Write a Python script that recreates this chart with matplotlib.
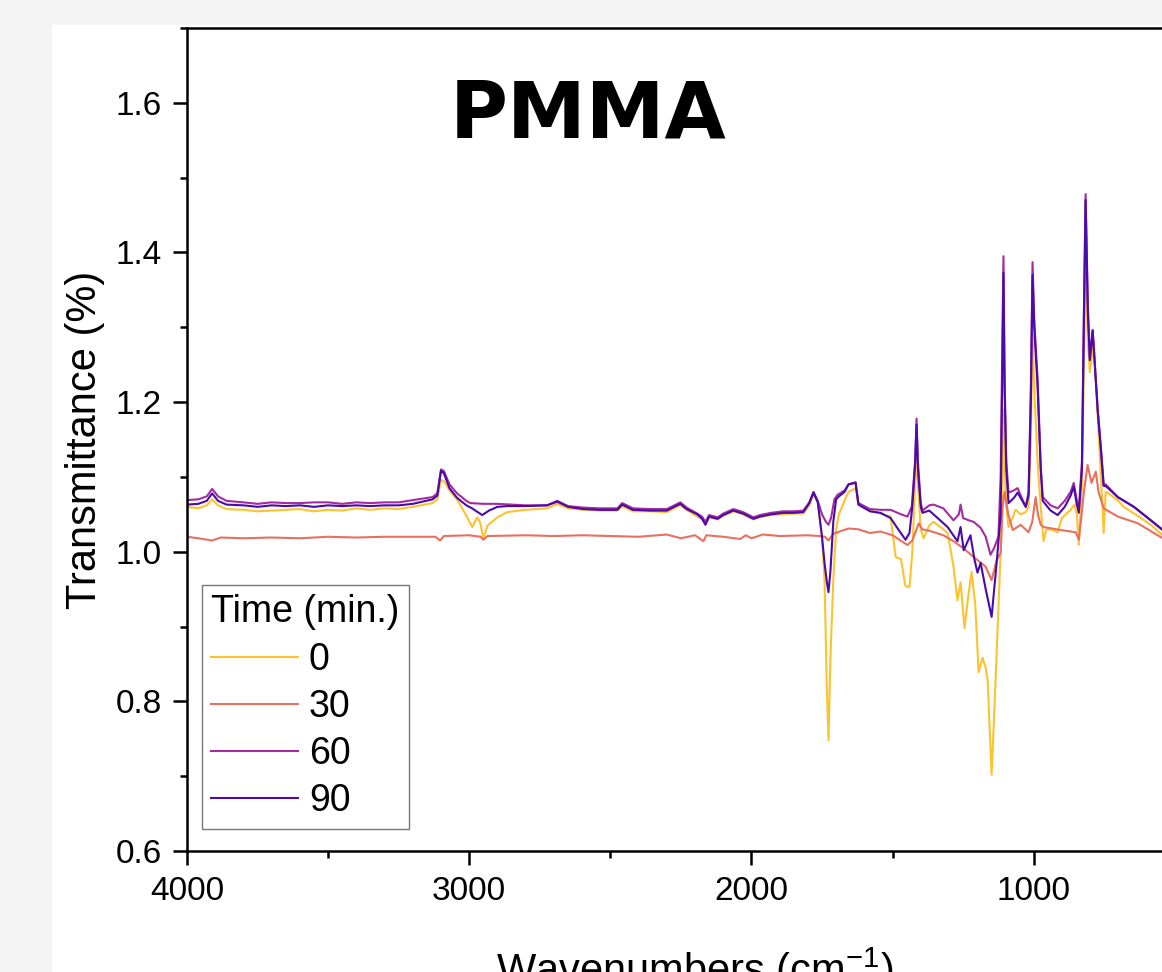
import matplotlib
matplotlib.use("Agg")
import matplotlib.pyplot as plt
from matplotlib.patches import Rectangle
from matplotlib.ticker import MultipleLocator, FormatStrFormatter

# ---------------- data ----------------
labels = ["0", "30", "60", "90"]

wn_0 = [4000, 3960, 3930, 3911, 3890, 3860, 3800, 3750, 3700, 3650, 3600, 3550, 3500, 3450, 3400,
        3350, 3300, 3250, 3200, 3130, 3113, 3100, 3090, 3070, 3040, 3010, 2989, 2972, 2962, 2950,
        2935, 2900, 2865, 2800, 2724, 2688, 2650, 2596, 2540, 2475, 2458, 2420, 2358, 2300, 2252,
        2230, 2192, 2175, 2163, 2150, 2120, 2100, 2064, 2030, 1993, 1970, 1930, 1887, 1850, 1816,
        1795, 1780, 1765, 1750, 1741, 1733, 1727, 1720, 1710, 1700, 1690, 1670, 1656, 1631, 1621,
        1580, 1543, 1507, 1489, 1470, 1455, 1447, 1440, 1430, 1420, 1415, 1410, 1400, 1390, 1370,
        1355, 1320, 1305, 1284, 1270, 1259, 1245, 1232, 1220, 1207, 1195, 1181, 1170, 1163, 1149,
        1138, 1128, 1117, 1110, 1107, 1103, 1097, 1089, 1075, 1064, 1046, 1028, 1018, 1010, 1004,
        998, 986, 975, 965, 955, 940, 915, 900, 880, 869, 855, 847, 840, 829, 822, 816, 808, 801,
        787, 773, 762, 756, 752, 745, 738, 700, 681, 640, 585, 543, 500, 400]
val_0 = [1.060, 1.058, 1.062, 1.070, 1.062, 1.057, 1.056, 1.054, 1.055, 1.056, 1.057, 1.054, 1.056, 1.055, 1.058,
         1.056, 1.058, 1.057, 1.060, 1.065, 1.070, 1.096, 1.094, 1.082, 1.068, 1.048, 1.033, 1.046, 1.040, 1.018,
         1.035, 1.046, 1.053, 1.056, 1.058, 1.064, 1.058, 1.056, 1.055, 1.055, 1.061, 1.054, 1.054, 1.053, 1.062,
         1.056, 1.047, 1.044, 1.038, 1.046, 1.043, 1.048, 1.054, 1.050, 1.043, 1.046, 1.049, 1.050, 1.051, 1.051,
         1.062, 1.077, 1.066, 1.020, 0.962, 0.820, 0.748, 0.860, 0.962, 1.030, 1.050, 1.068, 1.080, 1.085, 1.063,
         1.055, 1.051, 1.047, 0.993, 0.990, 0.955, 0.953, 0.953, 1.000, 1.090, 1.123, 1.090, 1.030, 1.018, 1.035,
         1.040, 1.030, 1.025, 0.980, 0.935, 0.959, 0.898, 0.940, 0.973, 0.930, 0.839, 0.858, 0.845, 0.828, 0.702,
         0.800, 0.895, 1.000, 1.100, 1.190, 1.120, 1.060, 1.033, 1.045, 1.056, 1.050, 1.053, 1.060, 1.150, 1.290,
         1.220, 1.120, 1.060, 1.014, 1.030, 1.030, 1.026, 1.045, 1.052, 1.056, 1.063, 1.050, 1.009, 1.090, 1.250,
         1.380, 1.280, 1.240, 1.280, 1.180, 1.100, 1.060, 1.025, 1.080, 1.079, 1.068, 1.060, 1.050, 1.036, 1.022,
         1.010, 0.995]

wn_30 = [4000, 3960, 3911, 3880, 3800, 3700, 3600, 3500, 3400, 3300, 3200, 3120, 3103, 3090, 3000,
         2960, 2950, 2935, 2800, 2700, 2600, 2500, 2400, 2300, 2250, 2200, 2170, 2160, 2100, 2040,
         2020, 2000, 1960, 1900, 1800, 1760, 1740, 1727, 1710, 1680, 1656, 1621, 1580, 1543, 1500,
         1447, 1430, 1407, 1395, 1370, 1320, 1284, 1250, 1213, 1199, 1170, 1149, 1130, 1117, 1110,
         1103, 1090, 1074, 1046, 1018, 1005, 993, 985, 975, 965, 904, 851, 840, 830, 822, 809, 795,
         780, 770, 752, 702, 631, 543, 400]
val_30 = [1.020, 1.018, 1.015, 1.019, 1.018, 1.019, 1.018, 1.020, 1.019, 1.020, 1.020, 1.020, 1.015, 1.021, 1.022,
          1.020, 1.016, 1.021, 1.022, 1.021, 1.022, 1.021, 1.020, 1.023, 1.018, 1.022, 1.014, 1.022, 1.020, 1.017,
          1.022, 1.018, 1.023, 1.021, 1.022, 1.021, 1.020, 1.015, 1.024, 1.028, 1.031, 1.030, 1.025, 1.027, 1.022,
          1.009, 1.015, 1.038, 1.030, 1.028, 1.022, 1.014, 1.005, 0.993, 0.989, 0.980, 0.962, 0.990, 0.998, 1.060,
          1.080, 1.050, 1.029, 1.036, 1.026, 1.040, 1.073, 1.050, 1.036, 1.033, 1.029, 1.026, 1.016, 1.050, 1.080,
          1.116, 1.092, 1.107, 1.080, 1.058, 1.047, 1.038, 1.018, 1.000]

wn_60 = [4000, 3960, 3930, 3911, 3890, 3860, 3800, 3750, 3700, 3650, 3600, 3550, 3500, 3450, 3400,
         3350, 3300, 3250, 3200, 3130, 3113, 3100, 3090, 3070, 3043, 3010, 2996, 2950, 2900, 2800,
         2724, 2688, 2650, 2596, 2540, 2475, 2458, 2420, 2358, 2300, 2252, 2230, 2192, 2175, 2163,
         2150, 2120, 2100, 2064, 2030, 1993, 1970, 1930, 1887, 1850, 1816, 1795, 1780, 1765, 1750,
         1736, 1727, 1718, 1706, 1695, 1670, 1656, 1631, 1621, 1580, 1543, 1507, 1470, 1447, 1432,
         1420, 1415, 1410, 1400, 1394, 1370, 1355, 1320, 1284, 1265, 1259, 1250, 1230, 1213, 1188,
         1170, 1153, 1140, 1125, 1117, 1110, 1107, 1103, 1097, 1089, 1070, 1057, 1040, 1028, 1018,
         1010, 1004, 998, 986, 975, 968, 940, 915, 890, 869, 858, 848, 840, 829, 822, 816, 808, 801,
         791, 773, 762, 752, 745, 702, 645, 585, 543, 400]
val_60 = [1.069, 1.070, 1.074, 1.084, 1.074, 1.068, 1.066, 1.064, 1.066, 1.065, 1.065, 1.066, 1.066, 1.064, 1.066,
          1.065, 1.066, 1.066, 1.069, 1.073, 1.078, 1.110, 1.108, 1.090, 1.078, 1.068, 1.065, 1.064, 1.064, 1.062,
          1.062, 1.068, 1.061, 1.059, 1.058, 1.058, 1.065, 1.058, 1.057, 1.057, 1.066, 1.059, 1.051, 1.047, 1.040,
          1.049, 1.046, 1.051, 1.057, 1.053, 1.046, 1.049, 1.052, 1.054, 1.054, 1.055, 1.066, 1.080, 1.068, 1.050,
          1.040, 1.036, 1.045, 1.070, 1.076, 1.082, 1.090, 1.093, 1.065, 1.057, 1.056, 1.056, 1.050, 1.047, 1.060,
          1.120, 1.178, 1.120, 1.065, 1.055, 1.062, 1.063, 1.058, 1.042, 1.050, 1.063, 1.045, 1.042, 1.040, 1.032,
          1.020, 0.996, 1.005, 1.020, 1.100, 1.300, 1.395, 1.230, 1.120, 1.079, 1.082, 1.085, 1.070, 1.060, 1.080,
          1.220, 1.387, 1.310, 1.230, 1.115, 1.073, 1.062, 1.058, 1.068, 1.080, 1.092, 1.070, 1.056, 1.120, 1.320,
          1.478, 1.330, 1.258, 1.296, 1.190, 1.140, 1.090, 1.090, 1.073, 1.060, 1.042, 1.029, 0.998]

wn_90 = [4000, 3960, 3930, 3911, 3890, 3860, 3800, 3750, 3700, 3650, 3600, 3550, 3500, 3450, 3400,
         3350, 3300, 3250, 3200, 3130, 3113, 3100, 3090, 3070, 3043, 3010, 2990, 2954, 2930, 2900,
         2865, 2800, 2724, 2688, 2650, 2596, 2540, 2475, 2458, 2420, 2358, 2300, 2252, 2230, 2192,
         2175, 2163, 2150, 2120, 2100, 2064, 2030, 1993, 1970, 1930, 1887, 1850, 1816, 1795, 1780,
         1765, 1750, 1741, 1733, 1727, 1720, 1710, 1700, 1690, 1670, 1656, 1631, 1621, 1580, 1543,
         1507, 1480, 1454, 1440, 1430, 1420, 1415, 1410, 1400, 1394, 1370, 1355, 1305, 1270, 1259,
         1248, 1224, 1210, 1199, 1188, 1170, 1149, 1130, 1117, 1110, 1107, 1103, 1097, 1089, 1070,
         1057, 1040, 1028, 1018, 1010, 1004, 998, 986, 975, 968, 940, 915, 890, 869, 858, 848, 840,
         829, 822, 816, 808, 801, 791, 773, 762, 752, 745, 702, 645, 585, 543, 400]
val_90 = [1.063, 1.064, 1.068, 1.078, 1.068, 1.063, 1.062, 1.060, 1.062, 1.061, 1.062, 1.060, 1.062, 1.061, 1.062,
          1.061, 1.062, 1.062, 1.064, 1.070, 1.075, 1.108, 1.105, 1.085, 1.072, 1.062, 1.058, 1.049, 1.055, 1.060,
          1.061, 1.061, 1.062, 1.067, 1.060, 1.057, 1.056, 1.056, 1.063, 1.056, 1.055, 1.055, 1.064, 1.057, 1.050,
          1.044, 1.036, 1.047, 1.044, 1.049, 1.055, 1.051, 1.044, 1.047, 1.050, 1.052, 1.052, 1.053, 1.065, 1.079,
          1.066, 1.020, 0.985, 0.960, 0.946, 0.975, 1.040, 1.070, 1.074, 1.080, 1.090, 1.092, 1.063, 1.054, 1.052,
          1.045, 1.030, 1.016, 1.025, 1.060, 1.120, 1.170, 1.110, 1.060, 1.052, 1.055, 1.050, 1.033, 1.014, 1.033,
          1.002, 1.022, 0.990, 0.972, 0.985, 0.950, 0.913, 0.990, 1.050, 1.280, 1.373, 1.220, 1.110, 1.065, 1.072,
          1.079, 1.068, 1.060, 1.075, 1.200, 1.370, 1.300, 1.220, 1.110, 1.068, 1.055, 1.049, 1.060, 1.075, 1.087,
          1.065, 1.052, 1.110, 1.310, 1.470, 1.320, 1.256, 1.296, 1.188, 1.138, 1.088, 1.088, 1.073, 1.060, 1.042,
          1.029, 0.998]

colors = ["#FDC22E", "#E8705F", "#A22CA0", "#4B0AAA"]

# ---------------- figure ----------------
W, H = 1162, 972
fig = plt.figure(figsize=(W / 100, H / 100), dpi=100, facecolor="#f4f4f4")
fig.patches.append(Rectangle((52 / W, 0), 1 - 52 / W, 1 - 25 / H, transform=fig.transFigure,
                             facecolor="white", edgecolor="none", zorder=-10))

x0, x1 = 187, 1203
y0, y1 = 28, 851
ax = fig.add_axes([x0 / W, 1 - y1 / H, (x1 - x0) / W, (y1 - y0) / H])
ax.set_facecolor("white")

series = [(wn_0, val_0), (wn_30, val_30), (wn_60, val_60), (wn_90, val_90)]
for (wn, v), lab, c in zip(series, labels, colors):
    ax.plot(wn, v, color=c, lw=1.5, label=lab, solid_joinstyle="round")

ax.set_xlim(4000, 400)
ax.set_ylim(0.6, 1.7)
ax.xaxis.set_major_locator(MultipleLocator(1000))
ax.xaxis.set_minor_locator(MultipleLocator(500))
ax.yaxis.set_major_locator(MultipleLocator(0.2))
ax.yaxis.set_minor_locator(MultipleLocator(0.1))
ax.yaxis.set_major_formatter(FormatStrFormatter("%.1f"))

font = "Liberation Sans"
for s in ["left", "bottom", "top"]:
    ax.spines[s].set_linewidth(1.8)
ax.spines["right"].set_visible(False)
ax.tick_params(which="major", direction="out", length=10, width=1.8, pad=8,
               labelsize=24, top=False, right=False)
ax.tick_params(which="minor", direction="out", length=5, width=1.8, top=False, right=False)
for lbl in ax.get_xticklabels() + ax.get_yticklabels():
    lbl.set_fontfamily(font)

ax.set_xlabel("Wavenumbers (cm$^{\\mathregular{-1}}$)", fontsize=30, fontfamily=font, labelpad=28)
ax.set_ylabel("Transmittance (%)", fontsize=30, fontfamily=font, labelpad=8)

fig.text(588 / W, 1 - 115 / H, "PMMA", fontsize=57, fontweight="bold", family="DejaVu Sans",
         ha="center", va="center")

leg = ax.legend(title="Time (min.)", loc="upper left",
                bbox_to_anchor=((202 - x0) / (x1 - x0), (y1 - 585) / (y1 - y0)),
                borderaxespad=0, fancybox=False, frameon=True, edgecolor="#555555",
                prop={"family": font, "size": 27}, title_fontproperties={"family": font, "size": 27},
                handlelength=2.3, handletextpad=0.3, borderpad=0.25, labelspacing=0.3,
                alignment="left")
leg.get_frame().set_linewidth(1.0)

fig.savefig("out.png", dpi=100, facecolor=fig.get_facecolor())
